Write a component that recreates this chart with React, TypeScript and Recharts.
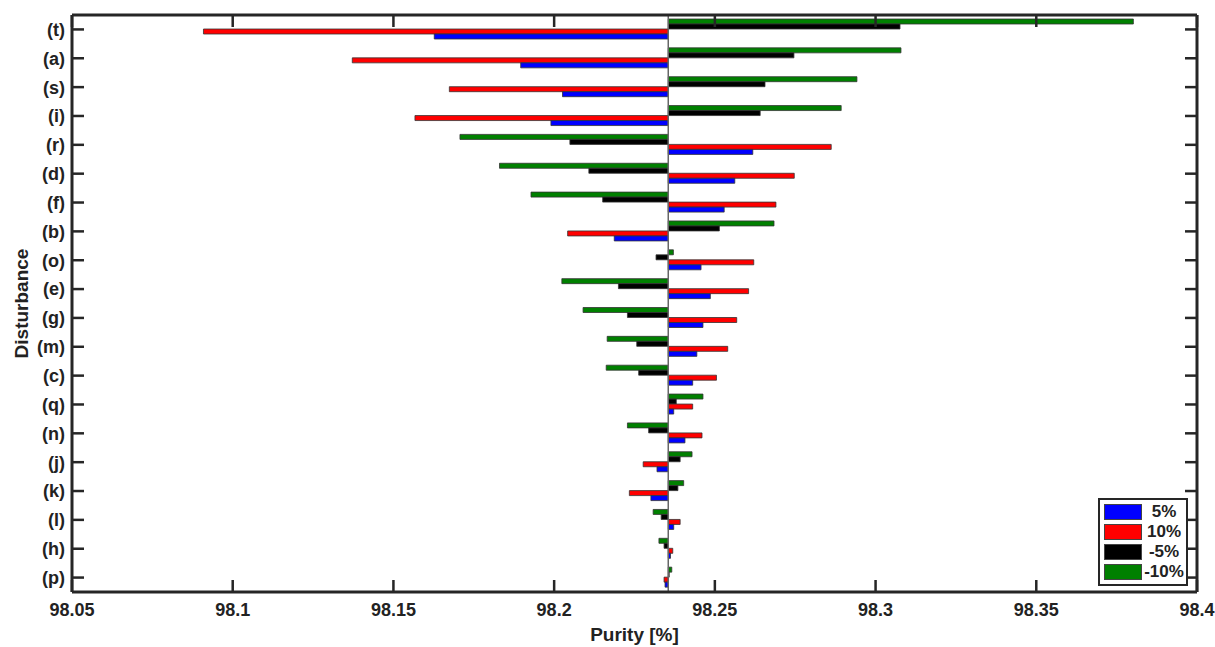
import { Bar, BarChart, ReferenceLine, XAxis, YAxis } from "recharts";

// disturbance cases, top to bottom
const categories = [
  "(t)", "(a)", "(s)", "(i)", "(r)", "(d)", "(f)", "(b)", "(o)", "(e)",
  "(g)", "(m)", "(c)", "(q)", "(n)", "(j)", "(k)", "(l)", "(h)", "(p)",
];

// nominal purity, bars grow out from here
const BASE = 98.2355;

const xTicks = [98.05, 98.1, 98.15, 98.2, 98.25, 98.3, 98.35, 98.4];

const purity5 = [
  98.1627, 98.1896, 98.2026, 98.199, 98.2618, 98.2562, 98.2529, 98.2187, 98.2457, 98.2486,
  98.2463, 98.2444, 98.2431, 98.2372, 98.2407, 98.232, 98.2301, 98.2372, 98.2362, 98.2345,
];
const purity10 = [
  98.0909, 98.1372, 98.1674, 98.1567, 98.2862, 98.2747, 98.269, 98.2042, 98.2621, 98.2605,
  98.2568, 98.254, 98.2505, 98.2431, 98.246, 98.2277, 98.2234, 98.2392, 98.2369, 98.2342,
];
const purityMinus5 = [
  98.3076, 98.2746, 98.2656, 98.2641, 98.2049, 98.2108, 98.2151, 98.2514, 98.2317, 98.22,
  98.2228, 98.2257, 98.2263, 98.238, 98.2294, 98.2392, 98.2385, 98.2333, 98.2342, 98.2358,
];
const purityMinus10 = [
  98.3802, 98.3079, 98.2942, 98.2893, 98.1707, 98.183, 98.1928, 98.2684, 98.2371, 98.2024,
  98.209, 98.2165, 98.2162, 98.2463, 98.2228, 98.2429, 98.2403, 98.2308, 98.2326, 98.2366,
];

// drawn top-to-bottom inside each category band
const series = [
  { key: "m10", label: "-10%", color: "#008000", values: purityMinus10 },
  { key: "m5", label: "-5%", color: "#000000", values: purityMinus5 },
  { key: "p10", label: "10%", color: "#ff0000", values: purity10 },
  { key: "p5", label: "5%", color: "#0000ff", values: purity5 },
];

const data = categories.map((name, i) => {
  const row: Record<string, any> = { name };
  series.forEach((s) => {
    const v = s.values[i];
    row[s.key] = [Math.min(BASE, v), Math.max(BASE, v)];
  });
  return row;
});

const FONT = "'Liberation Sans', Arial, sans-serif";
const INK = "#222";
const tickStyle = { fontSize: 18, fontWeight: 700, fill: INK, fontFamily: FONT };
const boxLine = { stroke: "#262626", strokeWidth: 3 };
const innerTick = { stroke: "#262626", strokeWidth: 2.5 };
const TICK_LEN = 12;

const CHART_W = 1207;
const CHART_H = 638;
const MARGIN = { top: 7, right: 18, bottom: 6, left: 0 };
const X_AXIS_H = 48;
const PLOT_H = CHART_H - MARGIN.top - MARGIN.bottom - X_AXIS_H;

// a full-height line dashed so only the two inward end marks show
const edgeDash = `${TICK_LEN} ${PLOT_H - 2 * TICK_LEN} ${TICK_LEN}`;

// tick marks only, no label text
const NoLabel = () => <g />;

const YTitle = ({ viewBox }: any) => {
  const cx = viewBox.x + 13;
  const cy = viewBox.y + viewBox.height / 2;
  return (
    <text
      x={cx}
      y={cy}
      transform={`rotate(-90, ${cx}, ${cy})`}
      textAnchor="middle"
      dominantBaseline="central"
      style={{ fontSize: 19, fontWeight: 700, fill: INK, fontFamily: FONT }}
    >
      Disturbance
    </text>
  );
};

function LegendBox() {
  const items = [...series].reverse();
  return (
    <div
      style={{
        position: "absolute",
        left: 1098,
        top: 498,
        width: 86,
        border: "2.5px solid #262626",
        background: "#fff",
        padding: "2px 0",
        fontFamily: FONT,
      }}
    >
      {items.map((s) => (
        <div key={s.key} style={{ display: "flex", alignItems: "center", height: 20 }}>
          <div
            style={{
              width: 36,
              height: 14,
              marginLeft: 4,
              background: s.color,
              border: "1px solid #444",
            }}
          />
          <div
            style={{
              flex: 1,
              textAlign: "center",
              fontSize: 17,
              fontWeight: 700,
              color: INK,
            }}
          >
            {s.label}
          </div>
        </div>
      ))}
    </div>
  );
}

export default function App() {
  return (
    <div
      style={{
        position: "relative",
        boxSizing: "border-box",
        width: 1215,
        height: 647,
        padding: "8px 0 0 8px",
      }}
    >
      <style>{"html { overflow: hidden; } body { margin: 0; }"}</style>
      <BarChart
        width={CHART_W}
        height={CHART_H}
        data={data}
        layout="vertical"
        margin={MARGIN}
        barSize={5}
        barGap={0}
      >
        <XAxis
          xAxisId="main"
          type="number"
          domain={[98.05, 98.4]}
          ticks={xTicks}
          allowDataOverflow
          interval={0}
          height={X_AXIS_H}
          tickLine={false}
          tickSize={0}
          tickMargin={11}
          axisLine={boxLine}
          tick={tickStyle}
        />
        <XAxis
          xAxisId="topEdge"
          type="number"
          orientation="top"
          mirror
          domain={[98.05, 98.4]}
          allowDataOverflow
          tick={false}
          tickLine={false}
          axisLine={boxLine}
        />
        <YAxis
          yAxisId="main"
          type="category"
          dataKey="name"
          width={64}
          interval={0}
          tickLine={false}
          tickSize={0}
          tickMargin={7}
          axisLine={false}
          tick={tickStyle}
          label={YTitle}
        />
        <YAxis
          yAxisId="leftTicks"
          type="category"
          dataKey="name"
          orientation="left"
          mirror
          interval={0}
          tick={NoLabel}
          tickSize={TICK_LEN}
          tickLine={innerTick}
          axisLine={boxLine}
        />
        <YAxis
          yAxisId="rightTicks"
          type="category"
          dataKey="name"
          orientation="right"
          mirror
          interval={0}
          tick={NoLabel}
          tickSize={TICK_LEN}
          tickLine={innerTick}
          axisLine={boxLine}
        />
        {series.map((s) => (
          <Bar
            key={s.key}
            dataKey={s.key}
            xAxisId="main"
            yAxisId="main"
            fill={s.color}
            stroke="#333"
            strokeWidth={0.8}
            isAnimationActive={false}
          />
        ))}
        <ReferenceLine x={BASE} xAxisId="main" yAxisId="main" stroke="#666" strokeWidth={1.5} />
        {xTicks.map((v) => (
          <ReferenceLine
            key={`tick-${v}`}
            x={v}
            xAxisId="main"
            yAxisId="main"
            ifOverflow="visible"
            stroke="#262626"
            strokeWidth={2.5}
            strokeDasharray={edgeDash}
          />
        ))}
      </BarChart>
      <div
        style={{
          position: "absolute",
          left: 72,
          width: 1125,
          top: 624,
          lineHeight: "22px",
          textAlign: "center",
          fontFamily: FONT,
          fontSize: 19,
          fontWeight: 700,
          color: INK,
        }}
      >
        Purity [%]
      </div>
      <LegendBox />
    </div>
  );
}
